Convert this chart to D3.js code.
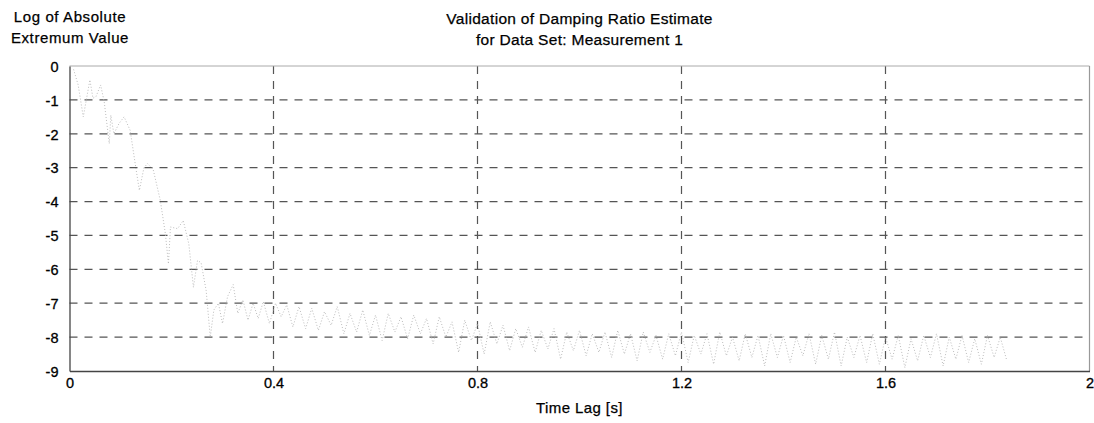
<!DOCTYPE html>
<html>
<head>
<meta charset="utf-8">
<script src="https://d3js.org/d3.v7.min.js"></script>
<style>
  body { margin: 0; background: #fff; }
  text { font-family: "Liberation Sans", Arial, Helvetica, sans-serif; fill: #111; }
</style>
</head>
<body>
<div id="my_dataviz"></div>
<script>

  // time lags of the extrema [s]
  var lagTimes = [
    0.008, 0.017, 0.027, 0.040, 0.046, 0.052, 0.061, 0.068, 0.078, 0.081,
    0.087, 0.097, 0.107, 0.119, 0.130, 0.137, 0.146, 0.153, 0.164, 0.178,
    0.188, 0.194, 0.198, 0.212, 0.223, 0.234, 0.243, 0.251, 0.258, 0.268,
    0.276, 0.283, 0.292, 0.300, 0.310, 0.321, 0.330, 0.340, 0.350, 0.360,
    0.370, 0.380, 0.392, 0.404, 0.415, 0.426, 0.438, 0.450,
    0.463, 0.475, 0.488, 0.500, 0.513, 0.525, 0.538, 0.550,
    0.563, 0.575, 0.588, 0.600, 0.613, 0.625, 0.638, 0.650,
    0.663, 0.675, 0.688, 0.700, 0.713, 0.725, 0.738, 0.750,
    0.763, 0.775, 0.788, 0.800, 0.813, 0.825, 0.838, 0.850,
    0.863, 0.875, 0.888, 0.900, 0.913, 0.925, 0.938, 0.950,
    0.963, 0.975, 0.988, 1.000, 1.013, 1.025, 1.038, 1.050,
    1.063, 1.075, 1.088, 1.100, 1.113, 1.125, 1.138, 1.150,
    1.163, 1.175, 1.188, 1.200, 1.213, 1.225, 1.238, 1.250,
    1.263, 1.275, 1.288, 1.300, 1.313, 1.325, 1.338, 1.350,
    1.363, 1.375, 1.388, 1.400, 1.413, 1.425, 1.438, 1.450,
    1.463, 1.475, 1.488, 1.500, 1.513, 1.525, 1.538, 1.550,
    1.563, 1.575, 1.588, 1.600, 1.613, 1.625, 1.638, 1.650,
    1.663, 1.675, 1.688, 1.700, 1.713, 1.725, 1.738, 1.750,
    1.763, 1.775, 1.788, 1.800, 1.813, 1.825, 1.838
  ];

  // log of absolute extremum value
  var logExtrema = [
    -0.10, -0.56, -1.50, -0.41, -0.95, -0.90, -0.56, -1.05, -2.29, -1.45,
    -2.00, -1.70, -1.50, -1.90, -3.00, -3.67, -3.00, -2.88, -3.05, -3.96,
    -4.95, -5.84, -4.75, -4.80, -4.56, -5.25, -6.53, -5.74, -5.80, -6.63,
    -8.00, -7.20, -7.00, -7.60, -6.80, -6.45, -7.30, -6.90, -7.50, -7.00,
    -7.45, -6.95, -7.60, -7.00, -7.40, -7.05, -7.70, -7.10,
    -7.75, -7.15, -7.80, -7.25, -7.65, -7.10, -7.90, -7.30,
    -7.85, -7.20, -7.95, -7.35, -8.10, -7.30, -7.85, -7.40,
    -8.05, -7.35, -7.90, -7.45, -8.20, -7.40, -8.00, -7.55,
    -8.45, -7.50, -8.10, -7.60, -8.50, -7.55, -8.20, -7.65,
    -8.40, -7.75, -8.30, -7.70, -8.45, -7.80, -8.35, -7.75,
    -8.65, -7.85, -8.40, -7.80, -8.55, -7.90, -8.45, -7.85,
    -8.60, -7.80, -8.50, -7.90, -8.70, -7.85, -8.45, -7.95,
    -8.65, -7.90, -8.55, -7.85, -8.75, -7.95, -8.50, -7.90,
    -8.80, -7.85, -8.55, -8.00, -8.70, -7.90, -8.60, -7.95,
    -8.85, -7.90, -8.60, -7.95, -8.75, -8.00, -8.55, -7.90,
    -8.80, -7.95, -8.65, -7.85, -8.85, -8.00, -8.60, -7.95,
    -8.75, -7.90, -8.80, -8.00, -8.65, -7.95, -8.90, -8.05,
    -8.70, -7.95, -8.60, -7.90, -8.85, -8.00, -8.65, -7.95,
    -8.75, -8.05, -8.80, -7.95, -8.60, -8.00, -8.70
  ];

  var xTicks = [0, 0.4, 0.8, 1.2, 1.6, 2];
  var yTicks = [0, -1, -2, -3, -4, -5, -6, -7, -8, -9];

  // graph dimension
  var margin = {top: 66, right: 4.5, bottom: 52, left: 69.5},
      width = 1094 - margin.left - margin.right,
      height = 423 - margin.top - margin.bottom;

  var svg = d3.select("#my_dataviz")
    .append("svg")
      .attr("width", 1094)
      .attr("height", 423);

  var g = svg.append("g")
      .attr("transform", "translate(" + margin.left + "," + margin.top + ")");

  var x = d3.scaleLinear().domain([0, 2]).range([0, width]);
  var y = d3.scaleLinear().domain([-9, 0]).range([height, 0]);

  // dashed grid
  g.append("g")
    .selectAll("line")
    .data(xTicks.slice(1, -1))
    .enter()
    .append("line")
      .attr("x1", function(d) { return x(d); })
      .attr("x2", function(d) { return x(d); })
      .attr("y1", 0)
      .attr("y2", height)
      .style("stroke", "#555")
      .style("stroke-width", 1.2)
      .style("stroke-dasharray", "8,7");

  g.append("g")
    .selectAll("line")
    .data(yTicks.slice(1, -1))
    .enter()
    .append("line")
      .attr("x1", 0)
      .attr("x2", width)
      .attr("y1", function(d) { return y(d); })
      .attr("y2", function(d) { return y(d); })
      .style("stroke", "#555")
      .style("stroke-width", 1.2)
      .style("stroke-dasharray", "8,7");

  // the data line (faint, broken grey)
  var pts = lagTimes.map(function(t, i) { return [t, logExtrema[i]]; });
  g.append("path")
    .datum(pts)
    .attr("d", d3.line()
      .x(function(d) { return x(d[0]); })
      .y(function(d) { return y(d[1]); }))
    .style("fill", "none")
    .style("stroke", "#b4b4b4")
    .style("stroke-width", 0.9)
    .style("stroke-dasharray", "1,2");

  // box: top and right light, left and bottom dark
  g.append("line").attr("x1", 0).attr("x2", width).attr("y1", 0).attr("y2", 0)
    .style("stroke", "#aaa").style("stroke-width", 1);
  g.append("line").attr("x1", width).attr("x2", width).attr("y1", 0).attr("y2", height)
    .style("stroke", "#999").style("stroke-width", 1.2);

  var xAxis = g.append("g")
    .attr("transform", "translate(0," + height + ")")
    .call(d3.axisBottom(x).tickValues(xTicks).tickSize(0).tickPadding(7)
      .tickFormat(function(d) { return d; }));
  var yAxis = g.append("g")
    .call(d3.axisLeft(y).tickValues(yTicks).tickSize(0).tickPadding(11)
      .tickFormat(function(d) { return d; }));

  [xAxis, yAxis].forEach(function(a) {
    a.select(".domain").style("stroke", "#444").style("stroke-width", 1.3);
    a.selectAll("text")
      .style("font-family", "'Liberation Sans', Arial, sans-serif")
      .style("font-size", "14.5px")
      .style("fill", "#000")
      .style("stroke", "#000")
      .style("stroke-width", 0.3);
  });
  yAxis.selectAll("text").attr("dy", "0.36em");

  // titles
  function label(txt, px, py, size, spacing) {
    svg.append("text")
      .attr("x", px)
      .attr("y", py)
      .attr("text-anchor", "middle")
      .style("font-size", size + "px")
      .style("letter-spacing", spacing + "px")
      .style("fill", "#000")
      .style("stroke", "#000")
      .style("stroke-width", 0.25)
      .text(txt);
  }
  label("Validation of Damping Ratio Estimate", margin.left + width / 2, 24, 15.5, 0.3);
  label("for Data Set: Measurement 1", margin.left + width / 2, 45, 15.5, 0.3);
  label("Log of Absolute", 70, 22, 15, 0.6);
  label("Extremum Value", 70, 43, 15, 0.6);
  label("Time Lag [s]", margin.left + width / 2, 413, 15, 0.4);

</script>
</body>
</html>
